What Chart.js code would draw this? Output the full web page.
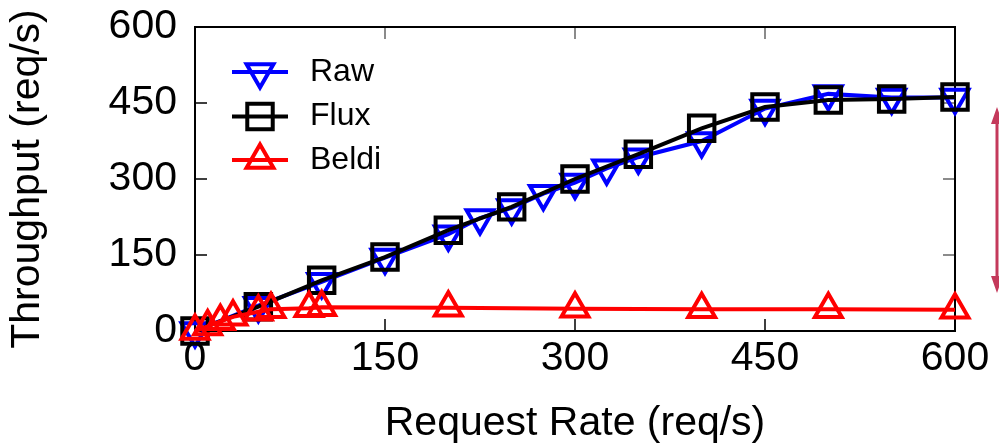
<!DOCTYPE html>
<html>
<head>
<meta charset="utf-8">
<script src="https://cdn.jsdelivr.net/npm/chart.js@4.4.1/dist/chart.umd.min.js"></script>
<style>
  html, body { margin: 0; padding: 0; background: #fff; }
  #wrap { width: 999px; height: 446px; position: relative; }
</style>
</head>
<body>
<div id="wrap"><canvas id="chart"></canvas></div>
<script>
// series
const rawX = [0, 50, 100, 150, 200, 225, 250, 275, 300, 325, 350, 400, 450, 500, 550, 600];
const rawY = [0, 50, 97, 145, 191, 223, 243, 271, 293, 321, 343, 375, 439, 468, 461, 461];
const fluxX = [0, 50, 100, 150, 200, 250, 300, 350, 400, 450, 500, 550, 600];
const fluxY = [0, 48, 100, 146, 199, 245, 300, 349, 400, 442, 456, 458, 462];
const beldiX = [0, 10, 20, 30, 50, 60, 90, 100, 200, 300, 400, 500, 600];
const beldiY = [0, 9, 19, 28, 38, 43, 45, 47, 46, 44, 43, 43, 42];
const axisTicks = [0, 150, 300, 450, 600];
const seriesNames = ['Raw', 'Flux', 'Beldi'];
const seriesColors = ['#0000ff', '#000000', '#ff0000'];
// annotation arrow on the right (throughput gap)
const gapArrow = [75, 442];

const FONT = '"Liberation Sans", Arial, Helvetica, sans-serif';
const toPoints = (xs, ys) => xs.map((x, i) => ({ x: x, y: ys[i] }));

const drawMarker = (ctx, style, x, y, r, rot, color) => {
    ctx.save();
    ctx.strokeStyle = color;
    ctx.lineWidth = 4;
    ctx.beginPath();
    if (style === 'rect') {
        const s = r * Math.SQRT1_2;
        ctx.rect(x - s, y - s, 2 * s, 2 * s);
    } else {
        const a = rot * Math.PI / 180;
        for (let k = 0; k < 3; k++) {
            const t = a + k * 2 * Math.PI / 3;
            const px = x + Math.sin(t) * r, py = y - Math.cos(t) * r;
            if (k) ctx.lineTo(px, py); else ctx.moveTo(px, py);
        }
        ctx.closePath();
    }
    ctx.stroke();
    ctx.restore();
};

const markerStyles = [
    { style: 'triangle', r: 15.5, rot: 180 },
    { style: 'rect', r: 18, rot: 0 },
    { style: 'triangle', r: 15.5, rot: 0 }
];

// frame, inward tick marks, in-plot legend and the side arrow
const decorPlugin = {
    id: 'decor',
    beforeDatasetsDraw(chart) {
        const { ctx, chartArea: a, scales } = chart;
        ctx.save();
        ctx.lineWidth = 1.5;
        axisTicks.slice(1, -1).forEach(v => {
            const px = scales.x.getPixelForValue(v);
            const py = scales.y.getPixelForValue(v);
            ctx.strokeStyle = '#000';
            ctx.beginPath();
            ctx.moveTo(px, a.bottom); ctx.lineTo(px, a.bottom - 12);
            ctx.moveTo(a.left, py); ctx.lineTo(a.left + 12, py);
            ctx.stroke();
            ctx.strokeStyle = '#666';
            ctx.beginPath();
            ctx.moveTo(px, a.top); ctx.lineTo(px, a.top + 12);
            ctx.moveTo(a.right, py); ctx.lineTo(a.right - 12, py);
            ctx.stroke();
        });
        ctx.strokeStyle = '#000';
        ctx.lineWidth = 2;
        ctx.strokeRect(a.left, a.top, a.right - a.left, a.bottom - a.top);
        ctx.restore();
    },
    afterDraw(chart) {
        const { ctx, chartArea: a, scales } = chart;
        ctx.save();
        // legend
        const rows = [45, 89.5, 133];
        seriesNames.forEach((name, i) => {
            const y = a.top + rows[i];
            ctx.strokeStyle = seriesColors[i];
            ctx.lineWidth = 4;
            ctx.beginPath();
            ctx.moveTo(a.left + 37, y);
            ctx.lineTo(a.left + 93, y);
            ctx.stroke();
            const m = markerStyles[i];
            drawMarker(ctx, m.style, a.left + 65, y, m.r, m.rot, seriesColors[i]);
            ctx.fillStyle = '#000';
            ctx.font = '32px ' + FONT;
            ctx.textAlign = 'left';
            ctx.textBaseline = 'middle';
            ctx.fillText(name, a.left + 115, y);
        });
        // arrow
        const ax = a.right + 42;
        const yTop = scales.y.getPixelForValue(gapArrow[1]);
        const yBot = scales.y.getPixelForValue(gapArrow[0]);
        ctx.strokeStyle = '#c4395b';
        ctx.fillStyle = '#c4395b';
        ctx.lineWidth = 3;
        ctx.beginPath();
        ctx.moveTo(ax, yTop + 12);
        ctx.lineTo(ax, yBot - 12);
        ctx.stroke();
        ctx.beginPath();
        ctx.moveTo(ax, yTop); ctx.lineTo(ax - 6, yTop + 17); ctx.lineTo(ax + 6, yTop + 17); ctx.closePath();
        ctx.moveTo(ax, yBot); ctx.lineTo(ax - 6, yBot - 17); ctx.lineTo(ax + 6, yBot - 17); ctx.closePath();
        ctx.fill();
        ctx.restore();
    }
};

const makeDataset = (i, xs, ys, order) => ({
    label: seriesNames[i],
    data: toPoints(xs, ys),
    borderColor: seriesColors[i],
    borderWidth: 4,
    pointStyle: markerStyles[i].style,
    pointRotation: markerStyles[i].rot,
    pointRadius: markerStyles[i].r,
    pointHoverRadius: markerStyles[i].r,
    pointBorderWidth: 4,
    pointBorderColor: seriesColors[i],
    pointBackgroundColor: 'rgba(0,0,0,0)',
    tension: 0,
    clip: false,
    order: order
});

new Chart(document.getElementById('chart'), {
    type: 'line',
    data: {
        datasets: [
            makeDataset(0, rawX, rawY, 2),
            makeDataset(1, fluxX, fluxY, 1),
            makeDataset(2, beldiX, beldiY, 0)
        ]
    },
    options: {
        responsive: true,
        maintainAspectRatio: false,
        animation: false,
        events: [],
        layout: { padding: { left: 0, top: 27, right: 44, bottom: 0 } },
        plugins: { legend: { display: false }, tooltip: { enabled: false } },
        scales: {
            x: {
                type: 'linear',
                min: 0, max: 600,
                afterBuildTicks: s => { s.ticks = axisTicks.map(v => ({ value: v })); },
                afterFit: s => { s.height = 115; s.paddingLeft = 0; s.paddingRight = 0; },
                grid: { display: false, drawTicks: false },
                border: { display: false },
                ticks: { color: '#000', padding: 3, font: { family: FONT, size: 41 } },
                title: {
                    display: true, text: 'Request Rate (req/s)', color: '#000',
                    font: { family: FONT, size: 41, lineHeight: 1.1 },
                    padding: { top: 0, bottom: 0 }
                }
            },
            y: {
                type: 'linear',
                min: 0, max: 600,
                afterBuildTicks: s => { s.ticks = axisTicks.map(v => ({ value: v })); },
                afterFit: s => { s.width = 195; s.paddingTop = 0; s.paddingBottom = 0; },
                grid: { display: false, drawTicks: false },
                border: { display: false },
                ticks: { color: '#000', padding: 18, font: { family: FONT, size: 41 } },
                title: {
                    display: true, text: 'Throughput (req/s)', color: '#000',
                    font: { family: FONT, size: 41, lineHeight: 1.1 },
                    padding: { top: 5, bottom: 0 }
                }
            }
        }
    },
    plugins: [decorPlugin]
});
</script>
</body>
</html>
